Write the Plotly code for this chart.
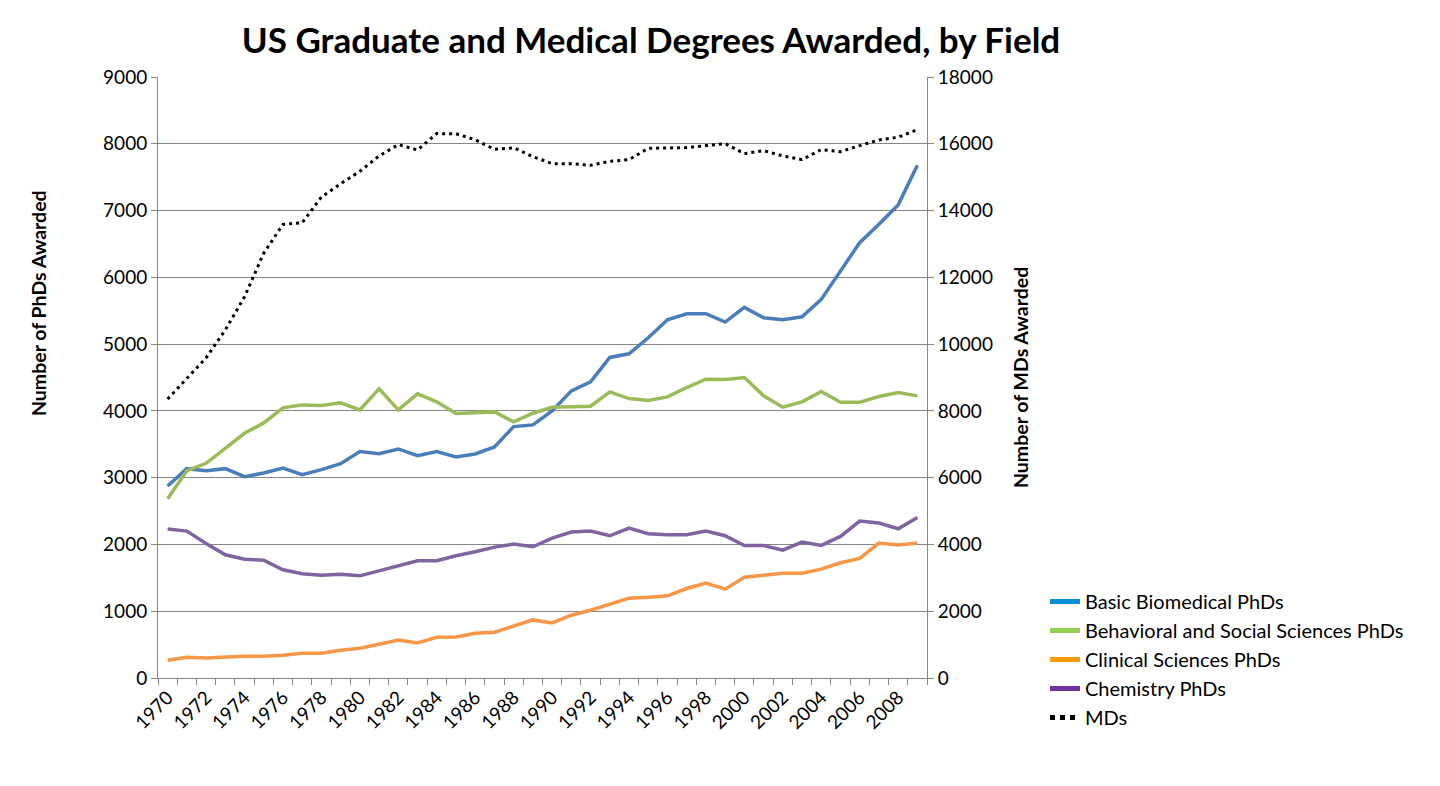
import plotly.graph_objects as go

years = list(range(1970, 2010))

biomedical = [2875, 3135, 3105, 3135, 3015, 3070, 3145, 3045, 3120, 3210,
              3390, 3360, 3430, 3330, 3390, 3310, 3355, 3460, 3765, 3790,
              4000, 4300, 4435, 4800, 4855, 5095, 5365, 5455, 5455, 5330,
              5550, 5395, 5365, 5410, 5670, 6100, 6520, 6795, 7085, 7680]

behavioral = [2685, 3105, 3215, 3440, 3665, 3820, 4045, 4090, 4080, 4120,
              4015, 4330, 4015, 4255, 4135, 3960, 3975, 3985, 3835, 3965,
              4055, 4065, 4070, 4285, 4185, 4155, 4210, 4350, 4475, 4470,
              4500, 4225, 4055, 4135, 4290, 4130, 4130, 4215, 4275, 4225]

clinical = [265, 310, 300, 315, 325, 325, 340, 370, 370, 415,
            445, 505, 570, 525, 610, 615, 670, 685, 780, 870,
            825, 940, 1015, 1100, 1195, 1210, 1230, 1340, 1420, 1330,
            1510, 1540, 1570, 1570, 1630, 1725, 1790, 2020, 1990, 2020]

chemistry = [2230, 2200, 2015, 1845, 1780, 1765, 1620, 1560, 1540, 1555,
             1530, 1605, 1680, 1755, 1755, 1830, 1890, 1960, 2005, 1965,
             2095, 2185, 2200, 2130, 2245, 2160, 2145, 2145, 2200, 2130,
             1985, 1985, 1915, 2035, 1985, 2120, 2350, 2320, 2235, 2405]

mds = [8355, 8955, 9585, 10425, 11415, 12725, 13585, 13635, 14405, 14805,
       15175, 15635, 15975, 15815, 16305, 16300, 16120, 15835, 15880, 15615,
       15405, 15405, 15355, 15475, 15525, 15865, 15885, 15885, 15945, 16005,
       15705, 15795, 15635, 15525, 15825, 15765, 15945, 16115, 16195, 16425]

series_names = ["Basic Biomedical PhDs", "Behavioral and Social Sciences PhDs",
                "Clinical Sciences PhDs", "Chemistry PhDs"]
line_colors = ["#4A7EBB", "#9BBB59", "#F79646", "#8064A2"]
legend_colors = ["#0B8ED6", "#92D050", "#FF9900", "#7030A0"]

tick_years = list(range(1970, 2009, 2))
tick_text = [str(y) for y in tick_years]

FONT = "Lato"
GRAY = "#868686"

# page offset of the figure inside the html body (default 8px body margin)
OFF = 8
L, R, T, B = 158 - OFF, 1440 - 927 + OFF, 77 - OFF, 786 - 678 + OFF
PW = 927 - 158
PH = 678 - 77

fig = go.Figure()

for name, vals, col in zip(series_names, [biomedical, behavioral, clinical, chemistry], line_colors):
    fig.add_trace(go.Scatter(x=years, y=vals, mode="lines", name=name,
                             line=dict(color=col, width=3.5), showlegend=False))

fig.add_trace(go.Scatter(x=years, y=mds, mode="lines", name="MDs", yaxis="y2",
                         line=dict(color="#000000", width=3, dash="3px,4px"),
                         showlegend=False))

# legend entries (legend colours differ from plotted line colours in the original)
for name, col in zip(series_names, legend_colors):
    fig.add_trace(go.Scatter(x=[None], y=[None], mode="lines", name=name,
                             line=dict(color=col, width=5), showlegend=True))
fig.add_trace(go.Scatter(x=[None], y=[None], mode="lines", name="MDs",
                         line=dict(color="#000000", width=5, dash="dot"), showlegend=True))

fig.update_layout(
    width=1440, height=786,
    paper_bgcolor="white", plot_bgcolor="white",
    margin=dict(l=L, r=R, t=T, b=B),
    font=dict(family=FONT, size=19, color="#000000"),
    title=dict(text="<b>US Graduate and Medical Degrees Awarded, by Field</b>",
               x=(651 - OFF) / 1440, xanchor="center", y=1 - (41 - OFF) / 786,
               yanchor="middle", yref="container",
               font=dict(family=FONT, size=35, color="#000000")),
    xaxis=dict(range=[1969.5, 2009.5], tickmode="array", tickvals=tick_years,
               ticktext=tick_text, tickangle=-45, ticks="", showgrid=False,
               showline=True, linecolor=GRAY, linewidth=1, zeroline=False,
               tickfont=dict(size=19),
               minor=dict(tick0=1969.5, dtick=1, ticks="outside", ticklen=6,
                          tickcolor=GRAY, tickwidth=1, showgrid=False)),
    yaxis=dict(range=[0, 9000], dtick=1000, tickformat="d", showgrid=True,
               gridcolor=GRAY, gridwidth=1, showline=True, linecolor=GRAY,
               ticks="outside", ticklen=6, tickcolor=GRAY, zeroline=False,
               tickfont=dict(size=19)),
    yaxis2=dict(range=[0, 18000], dtick=2000, tickformat="d", overlaying="y",
                side="right", showgrid=False, showline=True, linecolor=GRAY,
                ticks="outside", ticklen=6, tickcolor=GRAY, zeroline=False,
                tickfont=dict(size=19)),
    legend=dict(x=(1045 - 158) / PW, xanchor="left", y=(678 - 582) / PH,
                yanchor="top", font=dict(family=FONT, size=20),
                tracegroupgap=0, bgcolor="rgba(0,0,0,0)"),
    annotations=[
        dict(text="<b>Number of PhDs Awarded</b>", textangle=-90, xref="paper",
             yref="paper", x=(38 - 158) / PW, y=(678 - 303) / PH,
             xanchor="center", yanchor="middle", showarrow=False,
             font=dict(family=FONT, size=19.5)),
        dict(text="<b>Number of MDs Awarded</b>", textangle=-90, xref="paper",
             yref="paper", x=(1020 - 158) / PW, y=(678 - 378) / PH,
             xanchor="center", yanchor="middle", showarrow=False,
             font=dict(family=FONT, size=19.5)),
    ],
)

fig.write_html("out.html")
